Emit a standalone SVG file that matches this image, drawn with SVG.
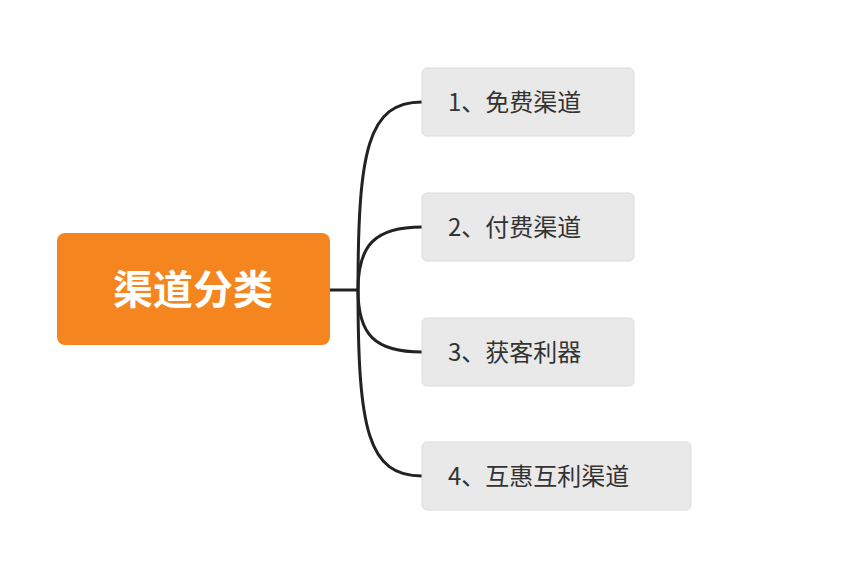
<svg xmlns="http://www.w3.org/2000/svg" width="846" height="566" viewBox="0 0 846 566">
<style>
.c{fill:#e9e9e9;stroke:#dcdcdc;stroke-width:1}
.t{font-family:"Noto Sans CJK SC","Noto Sans",sans-serif;font-size:24px;fill:#333}
.l{fill:none;stroke:#222;stroke-width:3}
</style>
<rect width="846" height="566" fill="#fff"/>
<g id="connectors">
<path class="l" d="M330,290 H358"/>
<path class="l" d="M358,290 C358,150 368,102 422,102"/>
<path class="l" d="M358,290 C358,245 375,227 422,227"/>
<path class="l" d="M358,290 C358,335 375,352 422,352"/>
<path class="l" d="M358,290 C358,430 368,476 422,476"/>
</g>
<g id="root">
<rect x="57" y="233" width="273" height="112" rx="8" fill="#f5861f"/>
<text x="193" y="304" text-anchor="middle" font-family="'Noto Sans CJK SC',sans-serif" font-size="40" font-weight="bold" fill="#fff">渠道分类</text>
</g>
<g id="n1"><rect class="c" x="422" y="68" width="212" height="68" rx="5"/><text class="t" x="448" y="111">1、免费渠道</text></g>
<g id="n2"><rect class="c" x="422" y="193" width="212" height="68" rx="5"/><text class="t" x="448" y="236">2、付费渠道</text></g>
<g id="n3"><rect class="c" x="422" y="318" width="212" height="68" rx="5"/><text class="t" x="448" y="361">3、获客利器</text></g>
<g id="n4"><rect class="c" x="422" y="442" width="269" height="68" rx="5"/><text class="t" x="448" y="485">4、互惠互利渠道</text></g>
</svg>
